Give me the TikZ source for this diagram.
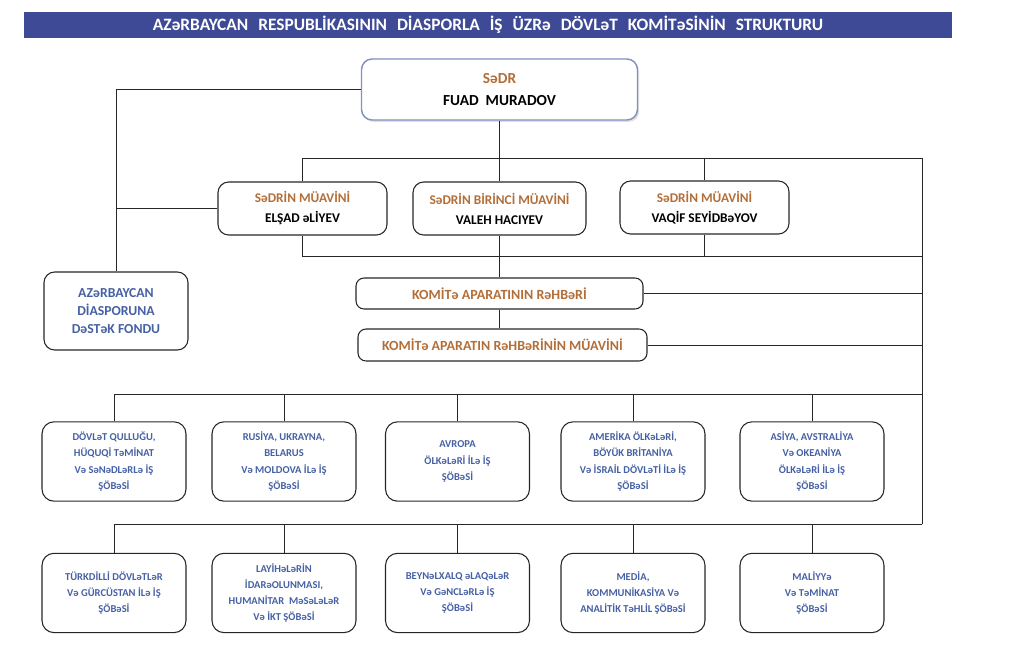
\documentclass[tikz,border=0pt]{standalone}
\usepackage{fontspec}
\setmainfont{Carlito}
\usetikzlibrary{positioning, shadows}

\definecolor{barblue}{HTML}{3E4A96}
\definecolor{headorange}{HTML}{B36E38}
\definecolor{deptblue}{HTML}{4560A4}
\definecolor{sedrline}{HTML}{8290C6}

\newcommand{\wgap}{\hspace{7.5pt}}

\begin{document}
\begin{tikzpicture}[x=0.75pt, y=-0.75pt, node distance=98.6pt,
        box/.style={rectangle, draw=black!85, line width=0.8pt, rounded corners=8pt, align=center, inner sep=2pt},
        titlebar/.style={rectangle, fill=barblue, text=white, minimum width=696pt, minimum height=18pt, font=\bfseries\fontsize{13}{14}\selectfont},
        topbox/.style={box, draw=sedrline, line width=1.1pt, fill=white, minimum width=207pt, minimum height=45.75pt, drop shadow={opacity=0.25, shadow xshift=1.2pt, shadow yshift=-1.5pt}, font=\bfseries\fontsize{11.5}{16.5}\selectfont},
        vicebox/.style={box, minimum width=126.75pt, minimum height=39.75pt, font=\bfseries\fontsize{10}{15}\selectfont},
        fondbox/.style={box, text=deptblue, minimum width=108pt, minimum height=58.5pt, font=\bfseries\fontsize{10.3}{13.5}\selectfont},
        aparat/.style={box, text=headorange, rounded corners=6pt, minimum width=215.25pt, minimum height=23.25pt, font=\bfseries\fontsize{10.5}{12}\selectfont},
        dept/.style={box, text=deptblue, rounded corners=9pt, minimum width=108pt, minimum height=59.5pt, font=\bfseries\fontsize{7.9}{12.2}\selectfont},
        line/.style={draw=black!85, line width=0.75pt}]

    \useasboundingbox (0,0) rectangle (1019,649);

    % title
    \node[titlebar] (title) at (488,25) {AZəRBAYCAN\wgap RESPUBLİKASININ\wgap DİASPORLA\wgap İŞ\wgap ÜZRə\wgap DÖVLəT\wgap KOMİTəSİNİN\wgap STRUKTURU};

    % leadership
    \node[topbox] (sedr) at (499.5,89.5) {\textcolor{headorange}{SəDR}\\FUAD\ \ MURADOV};
    \node[vicebox] (vice1) at (302.5,208.5) {\textcolor{headorange}{SəDRİN MÜAVİNİ}\\ELŞAD əLİYEV};
    \node[vicebox, minimum width=129.75pt] (vice2) at (499.5,208.5) {\textcolor{headorange}{SəDRİN BİRİNCİ MÜAVİNİ}\\VALEH HACIYEV};
    \node[vicebox] (vice3) at (704.5,207.5) {\textcolor{headorange}{SəDRİN MÜAVİNİ}\\VAQİF SEYİDBəYOV};
    \node[fondbox] (fond) at (116,311) {AZəRBAYCAN\\DİASPORUNA\\DəSTəK FONDU};
    \node[aparat] (rehber) at (499.5,293.5) {KOMİTə APARATININ RəHBəRİ};
    \node[aparat, minimum width=216.75pt, minimum height=24pt] (muavin) at (502.5,345) {KOMİTə APARATIN RəHBəRİNİN MÜAVİNİ};

    % departments
    \node[dept] (d1) at (114,461.5) {DÖVLəT QULLUĞU,\\HÜQUQİ TəMİNAT\\Və SəNəDLəRLə İŞ\\ŞÖBəSİ};
    \node[dept] (d2) at (284,461.5) {RUSİYA, UKRAYNA,\\BELARUS\\Və MOLDOVA İLə İŞ\\ŞÖBəSİ};
    \node[dept] (d3) at (457.5,461.5) {AVROPA\\ÖLKəLəRİ İLə İŞ\\ŞÖBəSİ};
    \node[dept] (d4) at (633,461.5) {AMERİKA ÖLKəLəRİ,\\BÖYÜK BRİTANİYA\\Və İSRAİL DÖVLəTİ İLə İŞ\\ŞÖBəSİ};
    \node[dept] (d5) at (812,461.5) {ASİYA, AVSTRALİYA\\Və OKEANİYA\\ÖLKəLəRİ İLə İŞ\\ŞÖBəSİ};

    \node[dept, below of=d1] (e1) {TÜRKDİLLİ DÖVLəTLəR\\Və GÜRCÜSTAN İLə İŞ\\ŞÖBəSİ};
    \node[dept, below of=d2] (e2) {LAYİHəLəRİN\\İDARəOLUNMASI,\\HUMANİTAR\ \ MəSəLəLəR\\Və İKT ŞÖBəSİ};
    \node[dept, below of=d3] (e3) {BEYNəLXALQ əLAQəLəR\\Və GəNCLəRLə İŞ\\ŞÖBəSİ};
    \node[dept, below of=d4] (e4) {MEDİA,\\KOMMUNİKASİYA Və\\ANALİTİK TəHLİL ŞÖBəSİ};
    \node[dept, below of=d5] (e5) {MALİYYə\\Və TəMİNAT\\ŞÖBəSİ};

    % bus corners on the right trunk
    \coordinate (bustop) at (922,158);
    \coordinate (busmid) at (922,256);
    \coordinate (busdept) at (922,394);
    \coordinate (buslow) at (922,524);

    % connectors
    \draw[line] (sedr.west) -| (fond.north);
    \draw[line] (vice1.west) -- (vice1.west -| fond.north);
    \draw[line] (sedr.south) -- (vice2.north);
    \draw[line] (vice1.north) |- (bustop) -- (buslow);
    \draw[line] (vice3.north) -- (vice3.north |- bustop);
    \draw[line] (vice1.south) |- (busmid);
    \draw[line] (vice3.south) -- (vice3.south |- busmid);
    \draw[line] (vice2.south) -- (rehber.north);
    \draw[line] (rehber.south) -- (rehber.south |- muavin.north);
    \draw[line] (rehber.east) -- (rehber.east -| bustop);
    \draw[line] (muavin.east) -- (muavin.east -| bustop);

    \draw[line] (busdept) -| (d1.north);
    \draw[line] (buslow) -| (e1.north);
    \foreach \n in {2,...,5} {
        \draw[line] (d\n.north) -- (d\n.north |- busdept);
        \draw[line] (e\n.north) -- (e\n.north |- buslow);
    }
\end{tikzpicture}
\end{document}
